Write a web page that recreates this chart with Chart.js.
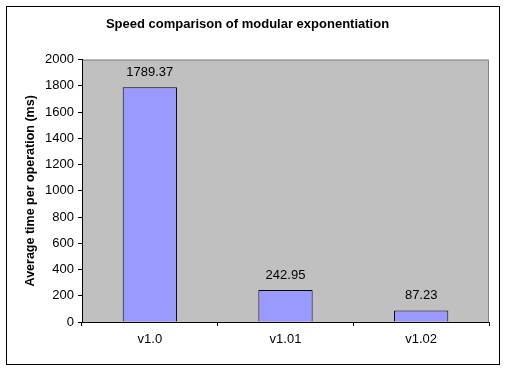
<!DOCTYPE html>
<html>
<head>
<meta charset="utf-8">
<script src="https://cdn.jsdelivr.net/npm/chart.js@4/dist/chart.umd.min.js"></script>
<style>
  html, body { margin: 0; padding: 0; background: #fff; }
  #wrap { width: 507px; height: 371px; }
</style>
</head>
<body>
<div id="wrap"><canvas id="c" width="507" height="371"></canvas></div>
<script>
  // chart data
  const versions = ['v1.0', 'v1.01', 'v1.02'];
  const avgTimeMs = [1789.37, 242.95, 87.23];
  const yMax = 2000;
  const yStep = 200;

  const FONT = 'Arial, "Liberation Sans", sans-serif';

  // grey plot area + outer frame, Excel style
  const frame = {
    id: 'frame',
    beforeDraw(chart) {
      const { ctx, chartArea: a } = chart;
      ctx.save();
      ctx.fillStyle = '#fff';
      ctx.fillRect(0, 0, chart.width, chart.height);
      ctx.fillStyle = '#C0C0C0';
      ctx.fillRect(a.left, a.top, a.right - a.left, a.bottom - a.top);
      ctx.strokeStyle = '#808080';
      ctx.lineWidth = 1;
      ctx.beginPath();
      ctx.moveTo(a.left, a.top + 0.5);
      ctx.lineTo(a.right - 0.5, a.top + 0.5);
      ctx.lineTo(a.right - 0.5, a.bottom);
      ctx.stroke();
      ctx.strokeStyle = '#000';
      ctx.strokeRect(6.5, 6.5, 493, 358);
      ctx.restore();
    }
  };

  // value labels above bars
  const valueLabels = {
    id: 'valueLabels',
    afterDatasetsDraw(chart) {
      const { ctx } = chart;
      const meta = chart.getDatasetMeta(0);
      ctx.save();
      ctx.font = '13px ' + FONT;
      ctx.fillStyle = '#000';
      ctx.textAlign = 'center';
      ctx.textBaseline = 'middle';
      meta.data.forEach((bar, i) => {
        ctx.fillText(avgTimeMs[i].toFixed(2), bar.x, bar.y - 15);
      });
      ctx.restore();
    }
  };

  new Chart(document.getElementById('c').getContext('2d'), {
    type: 'bar',
    data: {
      labels: versions,
      datasets: [{
        data: avgTimeMs,
        backgroundColor: '#9999FF',
        borderColor: '#000',
        borderWidth: 1,
        borderSkipped: 'bottom',
        categoryPercentage: 1,
        barPercentage: 0.4
      }]
    },
    options: {
      responsive: false,
      animation: false,
      layout: { padding: { left: 6, right: 18, top: 0, bottom: 7 } },
      plugins: {
        legend: { display: false },
        tooltip: { enabled: false },
        title: {
          display: true,
          text: 'Speed comparison of modular exponentiation',
          color: '#000',
          font: { family: FONT, size: 13, weight: 'bold' },
          padding: { top: 17, bottom: 27 }
        }
      },
      scales: {
        x: {
          afterFit(s) { s.height = 42; },
          grid: { drawOnChartArea: false, drawTicks: true, tickLength: 4, color: '#000', offset: true },
          border: { display: true, color: '#000' },
          ticks: { color: '#000', font: { family: FONT, size: 13 }, padding: 6 }
        },
        y: {
          min: 0,
          max: yMax,
          afterFit(s) { s.width = 76; },
          grid: { drawOnChartArea: false, drawTicks: true, tickLength: 4, color: '#000' },
          border: { display: true, color: '#000' },
          ticks: {
            stepSize: yStep,
            color: '#000',
            font: { family: FONT, size: 13 },
            padding: 4,
            callback: v => String(v)
          },
          title: {
            display: true,
            text: 'Average time per operation (ms)',
            color: '#000',
            font: { family: FONT, size: 12.5, weight: 'bold' },
            padding: { top: 17, bottom: 0 }
          }
        }
      }
    },
    plugins: [frame, valueLabels]
  });
</script>
</body>
</html>
